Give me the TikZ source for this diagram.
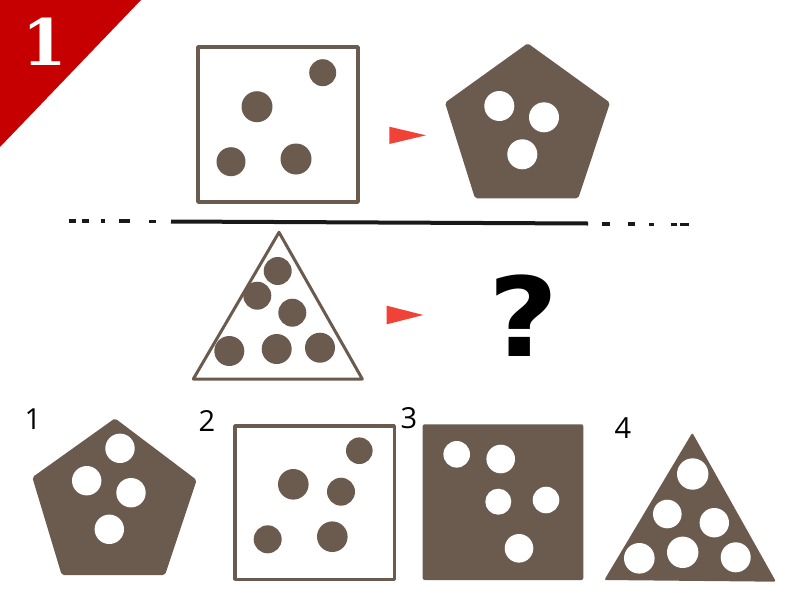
\documentclass[tikz,border=0pt]{standalone}
\usepackage{fontspec}
\newfontfamily\qfont{DejaVu Sans}
\newfontfamily\badgefont{DejaVu Serif}
\newfontfamily\handfont{Open Sans}
\definecolor{brn}{RGB}{106,91,78}
\definecolor{arrred}{RGB}{240,66,55}
\definecolor{cornred}{RGB}{198,0,0}
\tikzset{
  outl/.style={draw=brn,line width=3.5pt,line join=round},
  solidshape/.style={fill=brn,rounded corners=2pt},
  dot/.style={fill=brn},
  hole/.style={fill=white},
  pointer/.style={fill=arrred},
  dsh/.style={line width=3.5pt,draw=black!90},
  lbl/.style={inner sep=0pt,font=\handfont\fontsize{29}{29}\selectfont}
}
\begin{document}
\begin{tikzpicture}[x=1pt,y=-1pt]
\useasboundingbox (0,0) rectangle (800,600);
% corner badge
\fill[cornred] (0,0) -- (141,0) -- (0,147) -- cycle;
\node[text=white,inner sep=0pt,font=\badgefont\bfseries\fontsize{64}{64}\selectfont] (badge) at (45,42) {1};

% top square with dots
\draw[outl] (198,47) rectangle (358,202);
\fill[dot] (322.7,72.7) circle[radius=13.5pt];
\fill[dot] (257,106.7) circle[radius=15.5pt];
\fill[dot] (231,161.7) circle[radius=14.5pt];
\fill[dot] (296,159) circle[radius=15.5pt];

% red pointer top
\fill[pointer] (389.3,126.7) -- (426,135.3) -- (389.3,144) -- cycle;

% top pentagon
\fill[solidshape] (527.7,43.3) -- (610,102.7) -- (578.3,198.3) -- (475,198.3) -- (445,102.7) -- cycle;
\fill[hole] (499.3,106) circle[radius=15pt];
\fill[hole] (544,117.3) circle[radius=15pt];
\fill[hole] (522.3,154.3) circle[radius=15pt];

% separator line
\draw[dsh] (69,221) -- (76,221);
\draw[dsh] (82,221) -- (89,221);
\draw[dsh] (101,221) -- (105,221);
\draw[dsh] (119,221.2) -- (130,221.2);
\draw[dsh] (149,221.4) -- (156,221.4);
\draw[line width=4pt,draw=black!90] (171,221.5) -- (588,223.5);
\draw[dsh] (602,224) -- (610,224);
\draw[dsh] (628,224.2) -- (635,224.2);
\draw[dsh] (649,224.3) -- (654,224.3);
\draw[dsh] (671,224.4) -- (677,224.4);
\draw[dsh] (680,224.4) -- (689,224.4);

% middle triangle
\draw[draw=brn,line width=3pt,line join=round] (279,232.3) -- (362.3,379) -- (193.3,379) -- cycle;
\fill[dot] (277.7,271) circle[radius=14pt];
\fill[dot] (257.3,295.7) circle[radius=14pt];
\fill[dot] (292.3,312.7) circle[radius=14pt];
\fill[dot] (229.3,351) circle[radius=15pt];
\fill[dot] (276.7,349) circle[radius=15pt];
\fill[dot] (320,347.7) circle[radius=15pt];

% red pointer middle
\fill[pointer] (386.7,305.7) -- (423.3,315) -- (386.7,324.3) -- cycle;

% question mark
\node[inner sep=0pt,font=\qfont\bfseries\fontsize{110}{110}\selectfont,xscale=1.1] (qm) at (524,316) {?};

% labels
\node[lbl] (l1) at (33,419) {1};
\node[lbl] (l2) at (207,421) {2};
\node[lbl] (l3) at (409,418) {3};
\node[lbl] (l4) at (623,428) {4};

% option 1 pentagon
\fill[solidshape] (115,418.3) -- (196.7,480) -- (165,575) -- (61.7,575) -- (32.3,477.3) -- cycle;
\fill[hole] (120,448.3) circle[radius=14.7pt];
\fill[hole] (86.7,480.7) circle[radius=14.7pt];
\fill[hole] (131,492.7) circle[radius=14.7pt];
\fill[hole] (109.3,529.3) circle[radius=14.7pt];

% option 2 square
\draw[outl] (235,426) rectangle (394.3,579.3);
\fill[dot] (359.3,450.7) circle[radius=13.3pt];
\fill[dot] (293.3,484.3) circle[radius=15.3pt];
\fill[dot] (341,491.7) circle[radius=14pt];
\fill[dot] (267.7,539.3) circle[radius=14pt];
\fill[dot] (332.3,536.7) circle[radius=15.3pt];

% option 3 filled square
\fill[solidshape] (422.7,424.3) rectangle (583.3,580);
\fill[hole] (456.7,454.3) circle[radius=13.3pt];
\fill[hole] (500.7,459) circle[radius=14.3pt];
\fill[hole] (498.3,501.7) circle[radius=13pt];
\fill[hole] (546,500) circle[radius=13.3pt];
\fill[hole] (519,548.3) circle[radius=14.3pt];

% option 4 filled triangle
\fill[solidshape] (692.3,432.7) -- (776,581.7) -- (604.3,580) -- cycle;
\fill[hole] (692.7,474) circle[radius=15.7pt];
\fill[hole] (667.3,514) circle[radius=14.3pt];
\fill[hole] (714.3,522.7) circle[radius=14.7pt];
\fill[hole] (639.3,558.3) circle[radius=15.3pt];
\fill[hole] (682.7,552.3) circle[radius=15.7pt];
\fill[hole] (735.7,557.3) circle[radius=15pt];
\end{tikzpicture}
\end{document}
